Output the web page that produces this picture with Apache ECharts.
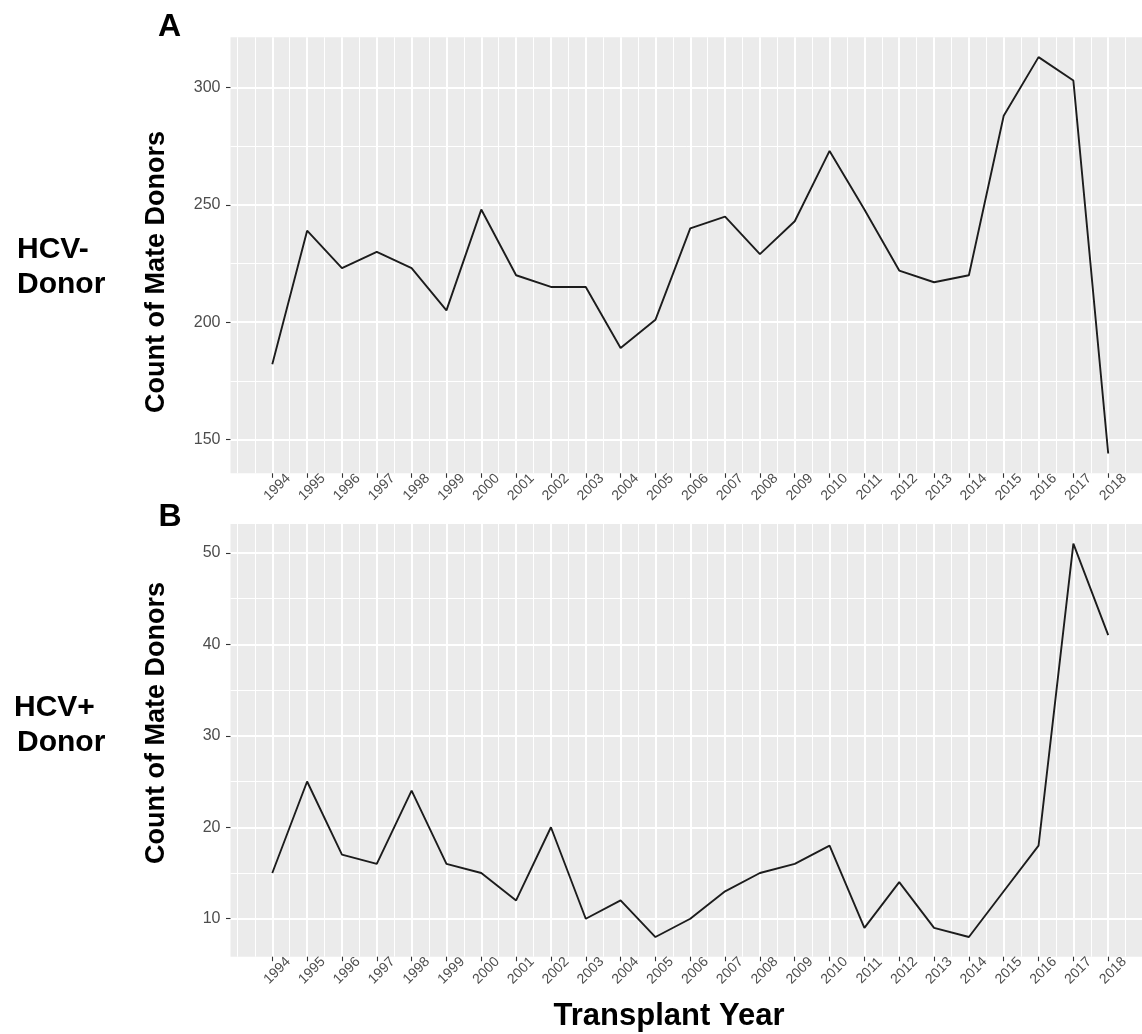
<!DOCTYPE html>
<html>
<head>
<meta charset="utf-8">
<script src="https://cdn.jsdelivr.net/npm/echarts@6/dist/echarts.min.js"></script>
<style>
  html, body { margin: 0; padding: 0; background: #ffffff; }
  #chart { width: 1142px; height: 1034px; }
</style>
</head>
<body>
<div id="chart"></div>
<script>
// Transplant years on the x axis
const years = [1994, 1995, 1996, 1997, 1998, 1999, 2000, 2001, 2002, 2003, 2004, 2005,
               2006, 2007, 2008, 2009, 2010, 2011, 2012, 2013, 2014, 2015, 2016, 2017, 2018];
const yearTickLabels = years.map(String);

// Panel A: mate donors of HCV- donors
const hcvNegCounts = [182, 239, 223, 230, 223, 205, 248, 220, 215, 215, 189, 201,
                      240, 245, 229, 243, 273, 248, 222, 217, 220, 288, 313, 303, 144];
// Panel B: mate donors of HCV+ donors
const hcvPosCounts = [15, 25, 17, 16, 24, 16, 15, 12, 20, 10, 12, 8,
                      10, 13, 15, 16, 18, 9, 14, 9, 8, 13, 18, 51, 41];

// Y tick values (major with labels, minor grid only)
const topYTicks = [150, 200, 250, 300];
const topYMinor = [175, 225, 275];
const bottomYTicks = [10, 20, 30, 40, 50];
const bottomYMinor = [15, 25, 35, 45];

// 5% padding on each side of the data range
function expand(values) {
  const lo = Math.min(...values), hi = Math.max(...values);
  const pad = (hi - lo) * 0.05;
  return [lo - pad, hi + pad];
}
const xRange = expand(years);
const topRange = expand(hcvNegCounts);
const bottomRange = expand(hcvPosCounts);

// Minor x grid: halfway between years, plus one year beyond each end
const xMinor = [years[0] - 1, years[0] - 0.5];
years.forEach((y, i) => { if (i < years.length - 1) xMinor.push((y + years[i + 1]) / 2); });
xMinor.push(years[years.length - 1] + 0.5, years[years.length - 1] + 1);

const FONT = 'Liberation Sans, Arial, Helvetica, sans-serif';
const PANEL_BG = '#EBEBEB';
const TEXT_GREY = '#4d4d4d';
const TICK_GREY = '#333333';

function xMajor(gridIndex) {
  return {
    type: 'value', gridIndex, position: 'bottom', offset: 0, min: xRange[0], max: xRange[1],
    axisLine: { show: false },
    axisTick: { show: true, customValues: years, length: 4.5, lineStyle: { color: TICK_GREY, width: 1.1 } },
    axisLabel: {
      show: true, customValues: years, rotate: 45, align: 'center', verticalAlign: 'top',
      margin: 9, fontSize: 14, color: TEXT_GREY, fontFamily: FONT,
      formatter: v => yearTickLabels[years.indexOf(Math.round(v))] || ''
    },
    splitLine: { show: true, lineStyle: { color: '#ffffff', width: 2 } }
  };
}
function xMinorAxis(gridIndex) {
  return {
    type: 'value', gridIndex, position: 'bottom', offset: 0, min: xRange[0], max: xRange[1],
    axisLine: { show: false },
    axisTick: { show: false, customValues: xMinor },
    axisLabel: { show: false },
    splitLine: { show: true, lineStyle: { color: '#ffffff', width: 1 } }
  };
}
function yMajor(gridIndex, range, ticks) {
  return {
    type: 'value', gridIndex, position: 'left', offset: 0, min: range[0], max: range[1],
    axisLine: { show: false },
    axisTick: { show: true, customValues: ticks, length: 4.5, lineStyle: { color: TICK_GREY, width: 1.1 } },
    axisLabel: { show: true, customValues: ticks, margin: 10, fontSize: 16, color: TEXT_GREY, fontFamily: FONT },
    splitLine: { show: true, lineStyle: { color: '#ffffff', width: 2 } }
  };
}
function yMinorAxis(gridIndex, range, ticks) {
  return {
    type: 'value', gridIndex, position: 'left', offset: 0, min: range[0], max: range[1],
    axisLine: { show: false },
    axisTick: { show: false, customValues: ticks },
    axisLabel: { show: false },
    splitLine: { show: true, lineStyle: { color: '#ffffff', width: 1 } }
  };
}

const titleStyle = (text, size) => ({
  text, fontSize: size, fontWeight: 'bold', fontFamily: FONT, fill: '#000000',
  align: 'center', verticalAlign: 'middle', textAlign: 'center', textVerticalAlign: 'middle'
});
const leftStyle = (text, size) => ({
  text, fontSize: size, fontWeight: 'bold', fontFamily: FONT, fill: '#000000',
  align: 'left', verticalAlign: 'middle', textAlign: 'left', textVerticalAlign: 'middle'
});

const chart = echarts.init(document.getElementById('chart'), null, { renderer: 'canvas' });
chart.setOption({
  animation: false,
  backgroundColor: '#ffffff',
  grid: [
    { left: 230.5, top: 37.3, width: 919.5, height: 436, show: true, backgroundColor: PANEL_BG,
      borderWidth: 0, containLabel: false, outerBoundsMode: 'none' },
    { left: 230.5, top: 524, width: 919.5, height: 432.7, show: true, backgroundColor: PANEL_BG,
      borderWidth: 0, containLabel: false, outerBoundsMode: 'none' }
  ],
  xAxis: [xMinorAxis(0), xMajor(0), xMinorAxis(1), xMajor(1)],
  yAxis: [
    yMinorAxis(0, topRange, topYMinor), yMajor(0, topRange, topYTicks),
    yMinorAxis(1, bottomRange, bottomYMinor), yMajor(1, bottomRange, bottomYTicks)
  ],
  series: [
    {
      type: 'line', xAxisIndex: 1, yAxisIndex: 1, showSymbol: false, symbol: 'none',
      data: years.map((y, i) => [y, hcvNegCounts[i]]),
      lineStyle: { color: '#1c1c1c', width: 1.9 }
    },
    {
      type: 'line', xAxisIndex: 3, yAxisIndex: 3, showSymbol: false, symbol: 'none',
      data: years.map((y, i) => [y, hcvPosCounts[i]]),
      lineStyle: { color: '#1c1c1c', width: 1.9 }
    }
  ],
  graphic: [
    { type: 'text', x: 169.5, y: 27, style: titleStyle('A', 32) },
    { type: 'text', x: 170, y: 517, style: titleStyle('B', 32) },
    { type: 'text', x: 157, y: 272, rotation: Math.PI / 2, style: titleStyle('Count of Mate Donors', 27) },
    { type: 'text', x: 157, y: 723, rotation: Math.PI / 2, style: titleStyle('Count of Mate Donors', 27) },
    { type: 'text', x: 17, y: 250, style: leftStyle('HCV-', 30) },
    { type: 'text', x: 17, y: 285, style: leftStyle('Donor', 30) },
    { type: 'text', x: 14, y: 708, style: leftStyle('HCV+', 30) },
    { type: 'text', x: 17, y: 743, style: leftStyle('Donor', 30) },
    { type: 'text', x: 669, y: 1016, style: titleStyle('Transplant Year', 31) }
  ]
});
</script>
</body>
</html>
